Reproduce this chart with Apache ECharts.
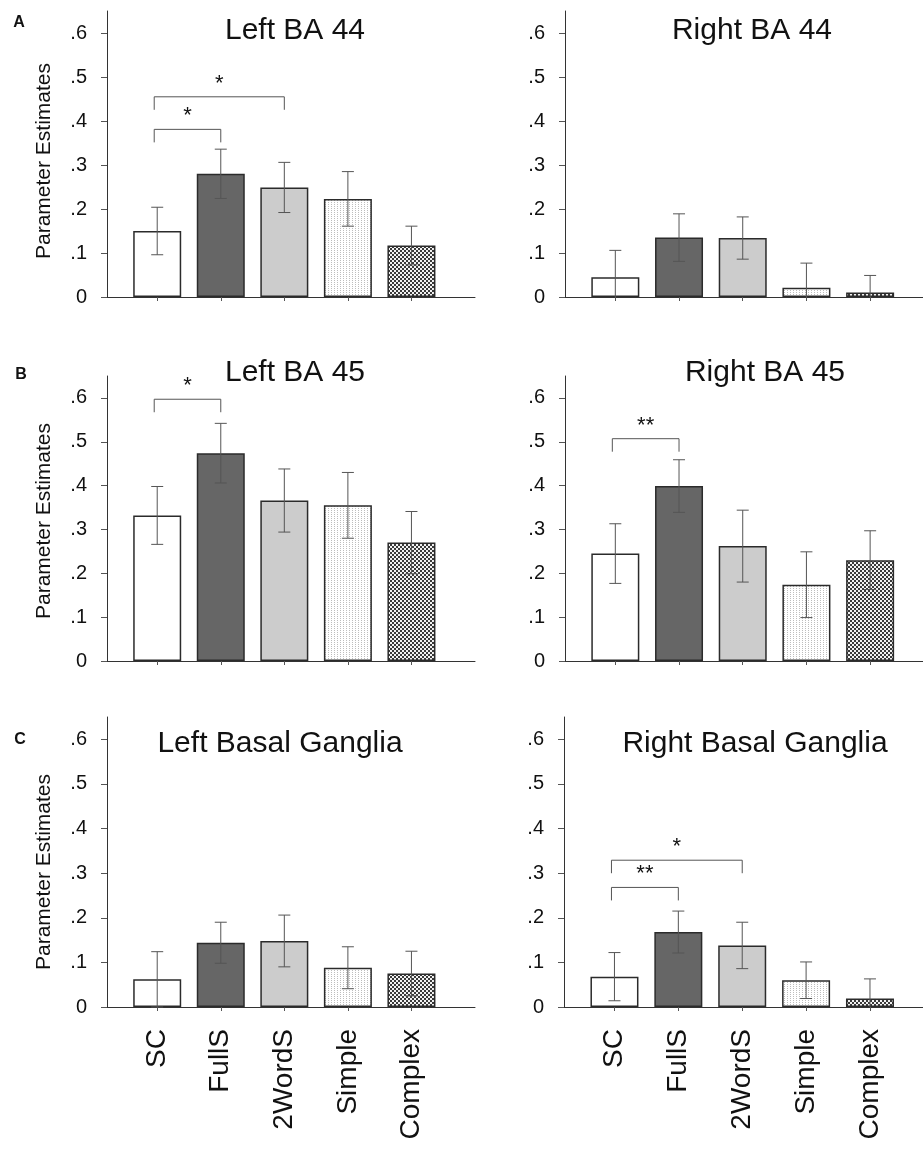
<!DOCTYPE html>
<html>
<head>
<meta charset="utf-8">
<script src="https://cdn.jsdelivr.net/npm/echarts@6/dist/echarts.min.js"></script>
<style>
html,body{margin:0;padding:0;background:#fff;}
#c{width:923px;height:1153px;}
</style>
</head>
<body>
<div id="c"></div>
<script>
// ---------- data ----------
const categories = ['SC', 'FullS', '2WordS', 'Simple', 'Complex'];
const panelTitles = ['Left BA 44', 'Right BA 44', 'Left BA 45', 'Right BA 45', 'Left Basal Ganglia', 'Right Basal Ganglia'];
const panelLetters = ['A', 'B', 'C'];
const yAxisName = 'Parameter Estimates';
const yTickValues = [0, 0.1, 0.2, 0.3, 0.4, 0.5, 0.6];

const leftBA44 = [0.150, 0.280, 0.249, 0.223, 0.117];
const leftBA44Err = [0.054, 0.056, 0.057, 0.062, 0.044];
const rightBA44 = [0.045, 0.135, 0.134, 0.021, 0.010];
const rightBA44Err = [0.061, 0.054, 0.048, 0.056, 0.039];
const leftBA45 = [0.332, 0.474, 0.366, 0.355, 0.270];
const leftBA45Err = [0.066, 0.068, 0.072, 0.075, 0.071];
const rightBA45 = [0.245, 0.399, 0.262, 0.174, 0.230];
const rightBA45Err = [0.068, 0.060, 0.082, 0.075, 0.067];
const leftBG = [0.062, 0.144, 0.148, 0.088, 0.075];
const leftBGErr = [0.062, 0.046, 0.058, 0.047, 0.050];
const rightBG = [0.068, 0.168, 0.138, 0.060, 0.019];
const rightBGErr = [0.054, 0.047, 0.052, 0.041, 0.044];

// significance brackets: [fromIndex, toIndex, bracketValue]
const sigLeftBA44 = [[0, 1, 0.381], [0, 2, 0.455]];
const sigLeftBA44Labels = ['*', '*'];
const sigRightBA44 = [];
const sigRightBA44Labels = [];
const sigLeftBA45 = [[0, 1, 0.597]];
const sigLeftBA45Labels = ['*'];
const sigRightBA45 = [[0, 1, 0.507]];
const sigRightBA45Labels = ['**'];
const sigLeftBG = [];
const sigLeftBGLabels = [];
const sigRightBG = [[0, 1, 0.268], [0, 2, 0.329]];
const sigRightBGLabels = ['**', '*'];

const panelValues = [leftBA44, rightBA44, leftBA45, rightBA45, leftBG, rightBG];
const panelErrors = [leftBA44Err, rightBA44Err, leftBA45Err, rightBA45Err, leftBGErr, rightBGErr];
const panelSig = [sigLeftBA44, sigRightBA44, sigLeftBA45, sigRightBA45, sigLeftBG, sigRightBG];
const panelSigLabels = [sigLeftBA44Labels, sigRightBA44Labels, sigLeftBA45Labels, sigRightBA45Labels, sigLeftBGLabels, sigRightBGLabels];

// ---------- styles ----------
const FONT = '"Liberation Sans", Arial, Helvetica, sans-serif';
function makePattern(w, h, draw) {
  const c = document.createElement('canvas');
  c.width = w; c.height = h;
  const ctx = c.getContext('2d');
  draw(ctx);
  return { image: c, repeat: 'repeat' };
}
const simplePattern = makePattern(3, 2, ctx => {
  ctx.fillStyle = '#ffffff'; ctx.fillRect(0, 0, 3, 2);
  ctx.fillStyle = '#bdbdbd'; ctx.fillRect(1, 0, 1, 1);
});
const complexPattern = makePattern(4, 4, ctx => {
  ctx.fillStyle = '#3a3a3a'; ctx.fillRect(0, 0, 4, 4);
  ctx.fillStyle = '#f2f2f2'; ctx.fillRect(0, 0, 2, 2); ctx.fillRect(2, 2, 2, 2);
});
const barFills = ['#ffffff', '#666666', '#cccccc', simplePattern, complexPattern];

const layout = [
  { left: 107, width: 368, top: 11, zero: 297, xMax: 5, titleX: 295, titleTop: 16, labels: false },
  { left: 565, width: 358, top: 11, zero: 297, xMax: 4.83, titleX: 752, titleTop: 16, labels: false },
  { left: 107, width: 368, top: 376, zero: 661, xMax: 5, titleX: 295, titleTop: 358, labels: false },
  { left: 565, width: 358, top: 376, zero: 661, xMax: 4.83, titleX: 765, titleTop: 358, labels: false },
  { left: 107, width: 368, top: 717, zero: 1007, xMax: 5, titleX: 280, titleTop: 729, labels: true },
  { left: 564, width: 359, top: 717, zero: 1007, xMax: 4.83, titleX: 755, titleTop: 729, labels: true }
];

const grid = [], xAxis = [], yAxis = [], series = [], title = [];
layout.forEach((L, i) => {
  grid.push({ left: L.left, top: L.top, width: L.width, height: L.zero - L.top, outerBoundsMode: 'none', containLabel: false });
  xAxis.push({
    type: 'value', gridIndex: i, min: -0.79, max: L.xMax,
    splitLine: { show: false },
    axisLine: { show: true, onZero: false, lineStyle: { color: '#333', width: 1 } },
    axisTick: { show: true, customValues: [0, 1, 2, 3, 4], length: 4, lineStyle: { color: '#555' } },
    axisLabel: {
      show: L.labels, customValues: [0, 1, 2, 3, 4], rotate: 90, margin: 22,
      formatter: v => categories[Math.round(v)], fontSize: 28, fontFamily: FONT, color: '#111'
    }
  });
  yAxis.push({
    type: 'value', gridIndex: i, min: 0, max: 0.65,
    splitLine: { show: false },
    axisLine: { show: true, onZero: false, lineStyle: { color: '#333', width: 1 } },
    axisTick: { show: true, customValues: yTickValues, length: 6, lineStyle: { color: '#555' } },
    axisLabel: {
      customValues: yTickValues, margin: 20, fontSize: 20, fontFamily: FONT, color: '#111',
      formatter: v => v === 0 ? '0' : '.' + Math.round(v * 10)
    }
  });
  const vals = panelValues[i], errs = panelErrors[i];
  series.push({
    type: 'bar', xAxisIndex: i, yAxisIndex: i, barWidth: 48, silent: true,
    data: vals.map((v, k) => ({ value: [k, v], itemStyle: { color: barFills[k], borderColor: '#2b2b2b', borderWidth: 1.5 } }))
  });
  series.push({
    type: 'custom', xAxisIndex: i, yAxisIndex: i, silent: true, z: 5,
    encode: { x: 0, y: 1 },
    data: vals.map((v, k) => [k, v, errs[k]]),
    renderItem: (params, api) => {
      const x = api.value(0), v = api.value(1), e = api.value(2);
      const hi = api.coord([x, v + e]);
      const clipped = v - e < 0;
      const lo = api.coord([x, Math.max(0, v - e)]);
      const st = { stroke: '#555', lineWidth: 1 };
      const ch = [
        { type: 'line', shape: { x1: hi[0], y1: hi[1], x2: lo[0], y2: lo[1] }, style: st },
        { type: 'line', shape: { x1: hi[0] - 6, y1: hi[1], x2: hi[0] + 6, y2: hi[1] }, style: st }
      ];
      if (!clipped) ch.push({ type: 'line', shape: { x1: lo[0] - 6, y1: lo[1], x2: lo[0] + 6, y2: lo[1] }, style: st });
      return { type: 'group', children: ch };
    }
  });
  const sig = panelSig[i], sigLab = panelSigLabels[i];
  if (sig.length) {
    series.push({
      type: 'custom', xAxisIndex: i, yAxisIndex: i, silent: true, z: 6,
      encode: { x: [0, 1], y: 2 },
      data: sig,
      renderItem: (params, api) => {
        const a = api.coord([api.value(0), api.value(2)]);
        const b = api.coord([api.value(1), api.value(2)]);
        const st = { stroke: '#555', lineWidth: 1, fill: null };
        const drop = 13;
        return {
          type: 'group', children: [
            { type: 'polyline', shape: { points: [[a[0] - 3, a[1] + drop], [a[0] - 3, a[1]], [b[0], b[1]], [b[0], b[1] + drop]] }, style: st },
            { type: 'text', style: { text: sigLab[params.dataIndex], x: (a[0] - 3 + b[0]) / 2, y: a[1] - 2, align: 'center', verticalAlign: 'bottom', fontSize: 22, fontFamily: FONT, fill: '#111' } }
          ]
        };
      }
    });
  }
  title.push({
    text: panelTitles[i], left: L.titleX, top: L.titleTop, textAlign: 'center', padding: 0,
    textStyle: { fontSize: 30, fontWeight: 'normal', fontFamily: FONT, color: '#111' }
  });
});

const graphic = [];
[[19, 23], [21, 375], [20, 740]].forEach((p, r) => {
  graphic.push({ type: 'text', x: p[0], y: p[1], style: { text: panelLetters[r], align: 'center', verticalAlign: 'middle', font: 'bold 16px ' + FONT, fill: '#111' } });
});
[[44, 161], [44, 521], [44, 872]].forEach(p => {
  graphic.push({ type: 'text', x: p[0], y: p[1], rotation: Math.PI / 2, style: { text: yAxisName, align: 'center', verticalAlign: 'middle', font: '21px ' + FONT, fill: '#111' } });
});

const chart = echarts.init(document.getElementById('c'), null, { renderer: 'canvas' });
chart.setOption({ animation: false, backgroundColor: '#fff', title, grid, xAxis, yAxis, series, graphic });
</script>
</body>
</html>
